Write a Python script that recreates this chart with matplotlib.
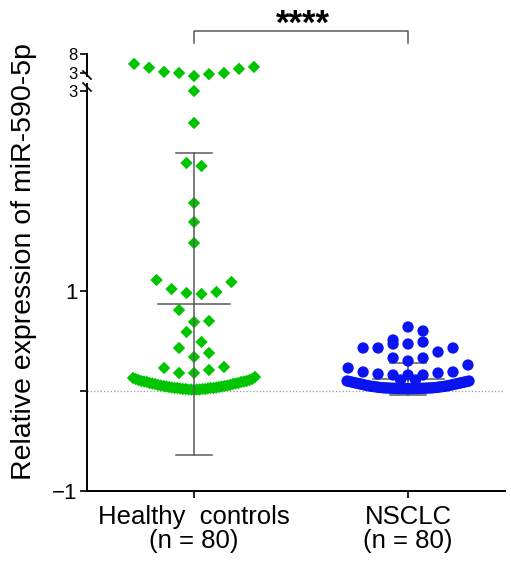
import numpy as np
import matplotlib
matplotlib.use("Agg")
import matplotlib.pyplot as plt
import matplotlib.transforms as mtransforms

plt.rcParams['font.family'] = ['Liberation Sans', 'DejaVu Sans']

# data (rows are left to right, as laid out in the dot plot)
groups = ["Healthy  controls\n(n = 80)", "NSCLC\n(n = 80)"]

healthy_top_rows = [[5.4, 4.4, 3.3, 3.0, 2.2, 2.7, 3.0, 4.1, 4.6]]
healthy_rows = [
    [3.0],
    [2.68],
    [2.28, 2.25],
    [1.88],
    [1.69],
    [1.48],
    [1.11, 1.02, 0.98, 0.97, 0.99, 1.09],
    [0.81, 0.69, 0.70],
    [0.59, 0.49],
    [0.43, 0.34, 0.38],
    [0.23, 0.18, 0.18, 0.21, 0.24],
    [0.13, 0.12, 0.11, 0.10, 0.095, 0.09, 0.08, 0.075, 0.07, 0.06, 0.055,
     0.05, 0.045, 0.04, 0.035, 0.03, 0.03, 0.025, 0.02, 0.02, 0.015, 0.015,
     0.01,
     0.015, 0.015, 0.02, 0.02, 0.025, 0.03, 0.03, 0.035, 0.04, 0.045, 0.05,
     0.055, 0.06, 0.07, 0.075, 0.08, 0.09, 0.095, 0.10, 0.11, 0.12, 0.14],
]
nsclc_rows = [
    [0.51, 0.64, 0.60],
    [0.43, 0.43, 0.47, 0.47, 0.49, 0.39, 0.43],
    [0.33, 0.30, 0.33],
    [0.23, 0.19, 0.17, 0.16, 0.16, 0.16, 0.18, 0.19, 0.26],
    [0.11, 0.11],
    [0.10, 0.095, 0.09, 0.085, 0.08, 0.075, 0.07, 0.065, 0.06, 0.055, 0.05,
     0.047, 0.044, 0.041, 0.038, 0.035, 0.033, 0.031, 0.03, 0.029, 0.028,
     0.027, 0.026, 0.025, 0.025, 0.024, 0.024, 0.023,
     0.023, 0.024, 0.024, 0.025, 0.025, 0.026, 0.027, 0.028, 0.029, 0.03,
     0.031, 0.033, 0.035, 0.038, 0.041, 0.044, 0.047, 0.05, 0.055, 0.06,
     0.065, 0.07, 0.075, 0.08, 0.085, 0.09, 0.095, 0.10],
]

means = [0.87, 0.12]
sds = [1.51, 0.16]

green = "#00c400"
blue = "#0a14f0"
gray = "#5a5a5a"

SLOT = 0.07
MAXW = 0.57


def layout(rows, center):
    xs, ys = [], []
    for row in rows:
        n = len(row)
        step = SLOT if n < 2 else min(SLOT, MAXW / (n - 1))
        off = (np.arange(n) - (n - 1) / 2) * step
        xs.extend(center + off)
        ys.extend(row)
    return np.array(xs), np.array(ys)


W, H = 511, 562
fig = plt.figure(figsize=(W / 100, H / 100), dpi=100)

# lower (main) axis and small top axis for the broken scale
ax = fig.add_axes([87 / W, (H - 491) / H, 418 / W, (491 - 84) / H])
ax_top = fig.add_axes([87 / W, (H - 76) / H, 418 / W, 22 / H], sharex=ax)

ax.set_xlim(-0.5, 1.453)
ax.set_ylim(-1, 3.07)
ax_top.set_ylim(2.21, 8)

ax.axhline(0, color="#9a9a9a", ls=":", lw=0.9, zorder=1)

hx, hy = layout(healthy_rows, 0)
tx, ty = layout(healthy_top_rows, 0)
nx, ny = layout(nsclc_rows, 1)

ax.scatter(hx, hy, marker="D", s=40, color=green, edgecolors="none", zorder=3, clip_on=False)
ax_top.scatter(tx, ty, marker="D", s=40, color=green, edgecolors="none", zorder=3, clip_on=False)
ax.scatter(nx, ny, marker="o", s=66, color=blue, edgecolors="none", zorder=3)

# mean and SD bars (over the green points, under the blue ones)
for xc, m, sd, z in zip([0, 1], means, sds, [4, 2]):
    ax.plot([xc, xc], [m - sd, m + sd], color=gray, lw=1.1, zorder=z)
    for yv in (m - sd, m + sd):
        ax.plot([xc - 0.082, xc + 0.082], [yv, yv], color=gray, lw=1.1, zorder=z)
    ax.plot([xc - 0.166, xc + 0.166], [m, m], color=gray, lw=1.1, zorder=z)

for a in (ax, ax_top):
    a.spines["top"].set_visible(False)
    a.spines["right"].set_visible(False)
    a.spines["left"].set_linewidth(1.4)
    a.tick_params(axis="y", direction="out", length=5, width=1.2, labelsize=16, pad=2)

ax.spines["bottom"].set_linewidth(1.4)
ax_top.spines["bottom"].set_visible(False)
ax_top.tick_params(axis="x", bottom=False, labelbottom=False)
ax_top.patch.set_alpha(0)

ax.set_yticks([-1, 0, 1, 3])
ax.set_yticklabels(["\u22121", "", "1", "3"])
ax_top.set_yticks([3, 8])
ax_top.set_yticklabels(["3", "8"])
for lab in ax.get_yticklabels()[3:] + ax_top.get_yticklabels():
    lab.set_fontsize(12)

ax.set_xticks([0, 1])
ax.set_xticklabels(groups, fontsize=18.5, linespacing=1.0)
ax.tick_params(axis="x", direction="out", length=5, width=1.2, pad=5)

# break marks on the y axis
bt = mtransforms.blended_transform_factory(fig.transFigure, fig.transFigure)
sx = 87 / W
for yp in (75, 87):
    fig.add_artist(plt.Line2D([sx - 4 / W, sx + 4 / W], [(H - yp + 4) / H, (H - yp - 4) / H],
                              color="black", lw=1.2, transform=bt))

# significance bracket
tr = mtransforms.blended_transform_factory(ax.transData, fig.transFigure)
y_hi, y_lo = (H - 31) / H, (H - 43) / H
fig.add_artist(plt.Line2D([0, 0, 1, 1], [y_lo, y_hi, y_hi, y_lo], color=gray, lw=1.1, transform=tr))
fig.text(0.51, (H - 34) / H, "****", transform=tr, ha="center", va="baseline",
         fontsize=25, fontweight="bold")

fig.text(24 / W, 1 - 262 / H, "Relative expression of miR-590-5p", rotation=90,
         ha="center", va="center", fontsize=20.5)

fig.savefig("out.png", dpi=100)
